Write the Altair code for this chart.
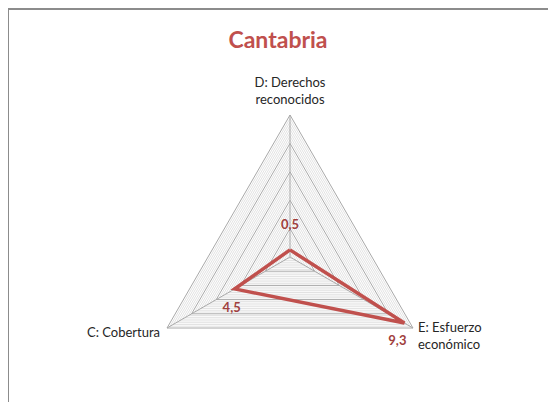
import math
import altair as alt
import pandas as pd

title_text = "Cantabria"
categories = ["D: Derechos\nreconocidos", "E: Esfuerzo\neconómico", "C: Cobertura"]
values = [0.5, 9.3, 4.5]
value_labels = ["0,5", "9,3", "4,5"]
angles_deg = [90, -30, 210]
r_max = 10
major_step = 2
minor_step = 0.25

W, H = 540, 394
cx, cy, R = 282, 249, 142  # centre pixel and radius of plot area
x_dom = [-cx / R * r_max, (W - cx) / R * r_max]
y_dom = [-(H - cy) / R * r_max, cy / R * r_max]

xs = alt.Scale(domain=x_dom, range=[0, W], nice=False, zero=False)
ys = alt.Scale(domain=y_dom, range=[H, 0], nice=False, zero=False)


def pt(r, a):
    return r * math.cos(math.radians(a)), r * math.sin(math.radians(a))


def ring_rows(levels):
    rows = []
    for lv in levels:
        for i, a in enumerate(angles_deg + [angles_deg[0]]):
            x, y = pt(lv, a)
            rows.append({"lvl": lv, "o": i, "x": x, "y": y})
    return pd.DataFrame(rows)


n_minor = int(round(r_max / minor_step))
minor_levels = [round(k * minor_step, 4) for k in range(1, n_minor + 1)
                if abs((k * minor_step) / major_step - round((k * minor_step) / major_step)) > 1e-6]
major_levels = [major_step * k for k in range(1, int(r_max / major_step) + 1)]

X = alt.X("x:Q", scale=xs, axis=None)
Y = alt.Y("y:Q", scale=ys, axis=None)

minor = alt.Chart(ring_rows(minor_levels)).mark_line(
    color="#dadada", strokeWidth=0.8).encode(X, Y, order="o:Q", detail="lvl:N")
major = alt.Chart(ring_rows(major_levels)).mark_line(
    color="#a8a8a8", strokeWidth=1).encode(X, Y, order="o:Q", detail="lvl:N")

spoke_df = pd.DataFrame([{"x": 0.0, "y": 0.0, "x2": pt(r_max, a)[0], "y2": pt(r_max, a)[1]}
                         for a in angles_deg])
spokes = alt.Chart(spoke_df).mark_rule(color="#a8a8a8", strokeWidth=1).encode(
    X, Y, x2="x2:Q", y2="y2:Q")

data_rows = []
for i, (v, a, lab) in enumerate(zip(values + [values[0]], angles_deg + [angles_deg[0]],
                                    value_labels + [value_labels[0]])):
    x, y = pt(v, a)
    data_rows.append({"o": i, "x": x, "y": y, "label": lab})
data_df = pd.DataFrame(data_rows)

series = alt.Chart(data_df).mark_line(color="#c0504d", strokeWidth=3.5,
                                      strokeJoin="miter").encode(X, Y, order="o:Q")

label_offsets = {"0,5": (0, -25), "9,3": (-7, 18), "4,5": (-3, 19)}
layers = [minor, major, spokes, series]
for lab, (dx, dy) in label_offsets.items():
    layers.append(
        alt.Chart(data_df[(data_df["label"] == lab) & (data_df["o"] < 3)]).mark_text(
            font="Lato", fontSize=13, fontWeight="bold", color="#a0403d",
            dx=dx, dy=dy, baseline="middle", align="center").encode(X, Y, text="label:N"))

cat_rows = []
for c, a in zip(categories, angles_deg):
    x, y = pt(r_max, a)
    cat_rows.append({"x": x, "y": y, "cat": c})
cat_df = pd.DataFrame(cat_rows)
cat_style = [
    (categories[0], dict(align="center", baseline="bottom", dx=0, dy=-25)),
    (categories[1], dict(align="left", baseline="top", dx=5, dy=-6)),
    (categories[2], dict(align="right", baseline="middle", dx=-7, dy=5)),
]
for c, st in cat_style:
    layers.append(
        alt.Chart(cat_df[cat_df["cat"] == c]).mark_text(
            font="Lato", fontSize=13, color="#262626", lineBreak="\n", lineHeight=17, **st
        ).encode(X, Y, text="cat:N"))

# chart area border (left and top)
border_l = alt.Chart(pd.DataFrame({"a": [0]})).mark_rule(color="#8c8c8c", strokeWidth=2).encode(
    x=alt.value(0), y=alt.value(1), y2=alt.value(H))
border_t = alt.Chart(pd.DataFrame({"a": [0]})).mark_rule(color="#8c8c8c", strokeWidth=2).encode(
    x=alt.value(0), x2=alt.value(W), y=alt.value(1))
layers += [border_l, border_t]

chart = alt.layer(*layers).properties(
    width=W, height=H,
    title=alt.TitleParams(title_text, font="Lato", fontSize=23, fontWeight="bold",
                          color="#c0504d", anchor="middle", offset=-45),
).configure_view(stroke=None).configure(padding=0, autosize=alt.AutoSizeParams(type="none"))

chart.save("out.html", embed_options={"renderer": "svg", "actions": False})
